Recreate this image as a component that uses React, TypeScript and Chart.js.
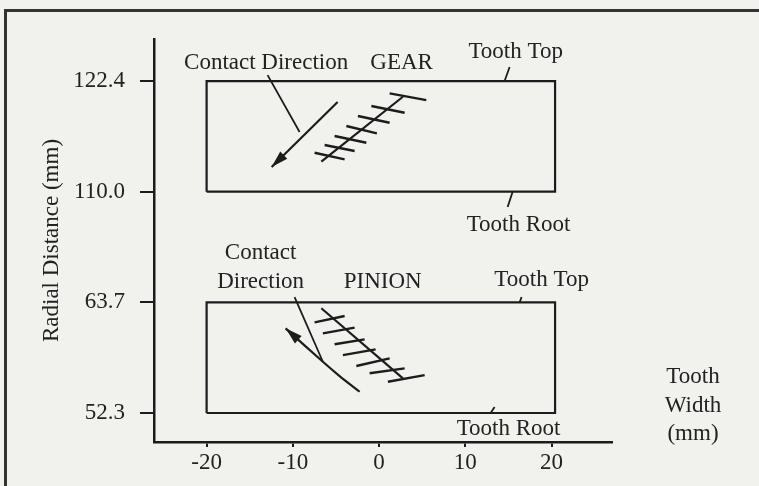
import React, { useEffect, useRef } from 'react';
import { Chart, registerables } from 'chart.js';
Chart.register(...registerables);

// ---- data ----
const xTickValues = [-20, -10, 0, 10, 20];
const yTickValuesMm = [52.3, 63.7, 110.0, 122.4];
const yTickLabels = ['52.3', '63.7', '110.0', '122.4'];
const pinionBand = [52.3, 63.7];
const gearBand = [110.0, 122.4];

// tooth outlines [x (mm), radial (mm)]
const gearTooth = [[-20, 110.0], [20.4, 110.0], [20.4, 122.4], [-20, 122.4], [-20, 110.0]];
const pinionTooth = [[-20, 52.3], [20.4, 52.3], [20.4, 63.7], [-20, 63.7], [-20, 52.3]];

// contact pattern spines
const gearSpine = [[-6.7, 113.36], [2.76, 120.64]];
const pinionSpine = [[-6.7, 63.09], [2.76, 55.87]];

// contact pattern cross marks
const gearHatches = [
  [[1.22, 121.02], [5.47, 120.27]],
  [[-0.9, 119.6], [2.96, 118.85]],
  [[-2.46, 118.48], [1.22, 117.73]],
  [[-3.8, 117.36], [-0.26, 116.54]],
  [[-5.16, 116.24], [-1.48, 115.49]],
  [[-6.32, 115.23], [-2.84, 114.56]],
  [[-7.48, 114.37], [-4.0, 113.63]],
];
const pinionHatches = [
  [[-7.48, 61.64], [-4.0, 62.29]],
  [[-6.52, 60.51], [-2.84, 61.09]],
  [[-5.16, 59.38], [-1.68, 59.89]],
  [[-4.2, 58.27], [-0.41, 58.86]],
  [[-2.64, 57.14], [1.22, 57.93]],
  [[-1.1, 56.39], [2.96, 56.9]],
  [[1.02, 55.52], [5.28, 56.21]],
];

// contact direction arrows (last point = arrow tip)
const gearArrow = [[-4.81, 120.05], [-12.46, 112.76]];
const pinionArrow = [[-2.26, 54.49], [-4.58, 56.11], [-6.52, 57.58], [-10.84, 61.02]];

// leader lines for labels
const leaders = [
  [[-12.93, 123.07], [-9.22, 116.69]],
  [[15.13, 123.97], [14.55, 122.4]],
  [[15.48, 110.0], [14.9, 108.28]],
  [[-9.8, 64.25], [-6.52, 57.58]],
  [[16.52, 64.25], [16.29, 63.7]],
  [[13.39, 52.92], [12.93, 52.3]],
];

const annotations = [
  { text: 'Contact Direction', x: -13.1, mm: 124.42 },
  { text: 'GEAR', x: 2.61, mm: 124.42 },
  { text: 'Tooth Top', x: 15.83, mm: 125.65 },
  { text: 'Tooth Root', x: 16.17, mm: 106.26 },
  { text: 'Contact', x: -13.74, mm: 68.78 },
  { text: 'Direction', x: -13.74, mm: 65.79 },
  { text: 'PINION', x: 0.41, mm: 65.79 },
  { text: 'Tooth Top', x: 18.84, mm: 66.0 },
  { text: 'Tooth Root', x: 15.01, mm: 50.65 },
];
const xTitleLines = ['Tooth', 'Width', '(mm)'];
const yTitle = 'Radial Distance (mm)';

// ---- broken radial axis: each band gets one unit ----
const toAxis = (mm: number) =>
  mm > (pinionBand[1] + gearBand[0]) / 2
    ? 2 + (mm - gearBand[0]) / (gearBand[1] - gearBand[0])
    : (mm - pinionBand[0]) / (pinionBand[1] - pinionBand[0]);
const yTickPositions = yTickValuesMm.map(toAxis);

const pt = (p: number[]) => ({ x: p[0], y: toAxis(p[1]) });
const segs = (list: number[][][]) =>
  list.flatMap((s) => [...s.map(pt), { x: null as any, y: null as any }]);

const INK = '#1c1c1c';
const TEXT = '#222222';
const FONT = '"Liberation Serif", "Times New Roman", serif';
const FS = 23;

const lineDs = (data: any[], extra: any = {}) => ({
  data,
  showLine: true,
  borderColor: INK,
  backgroundColor: INK,
  borderWidth: 2.2,
  pointRadius: 0,
  fill: false,
  tension: 0,
  spanGaps: false,
  ...extra,
});

const overlayPlugin = {
  id: 'overlay',
  afterDatasetsDraw(chart: any) {
    const ctx = chart.ctx;
    const xs = chart.scales.x;
    const ys = chart.scales.y;
    ctx.save();
    // arrowheads
    chart.data.datasets.forEach((ds: any, i: number) => {
      if (!ds.arrowEnd) return;
      const pts = chart.getDatasetMeta(i).data;
      const a = pts[pts.length - 2];
      const b = pts[pts.length - 1];
      const ang = Math.atan2(b.y - a.y, b.x - a.x);
      const len = 17;
      const hw = 5;
      ctx.fillStyle = INK;
      ctx.beginPath();
      ctx.moveTo(b.x, b.y);
      ctx.lineTo(
        b.x - len * Math.cos(ang) + hw * Math.sin(ang),
        b.y - len * Math.sin(ang) - hw * Math.cos(ang)
      );
      ctx.lineTo(
        b.x - len * Math.cos(ang) - hw * Math.sin(ang),
        b.y - len * Math.sin(ang) + hw * Math.cos(ang)
      );
      ctx.closePath();
      ctx.fill();
    });
    // labels
    ctx.fillStyle = TEXT;
    ctx.font = `${FS}px ${FONT}`;
    ctx.textAlign = 'center';
    ctx.textBaseline = 'middle';
    annotations.forEach((a) => {
      ctx.fillText(a.text, xs.getPixelForValue(a.x), ys.getPixelForValue(toAxis(a.mm)));
    });
    // x axis title at right side
    const ca = chart.chartArea;
    const cx = ca.right + 81;
    xTitleLines.forEach((t, i) => {
      ctx.fillText(t, cx, ca.bottom - 65 + i * 28.5);
    });
    ctx.restore();
  },
};

export default function App() {
  const ref = useRef<HTMLCanvasElement>(null);
  useEffect(() => {
    Chart.defaults.font.family = FONT;
    const chart = new Chart(ref.current as HTMLCanvasElement, {
      type: 'scatter',
      data: {
        datasets: [
          lineDs(gearTooth.map(pt)),
          lineDs(pinionTooth.map(pt)),
          lineDs(gearSpine.map(pt)),
          lineDs(pinionSpine.map(pt)),
          lineDs(segs(gearHatches), { borderWidth: 2.4 }),
          lineDs(segs(pinionHatches), { borderWidth: 2.4 }),
          lineDs(segs(leaders), { borderWidth: 1.8 }),
          lineDs(gearArrow.map(pt), { arrowEnd: true }),
          lineDs(pinionArrow.map(pt), { arrowEnd: true, tension: 0.3 }),
        ] as any,
      },
      options: {
        responsive: false,
        animation: false,
        devicePixelRatio: 1,
        layout: { padding: { left: 0, top: 39, right: 147, bottom: 0 } },
        plugins: { legend: { display: false }, tooltip: { enabled: false } },
        scales: {
          x: {
            type: 'linear',
            position: 'bottom',
            min: -26.1,
            max: 27,
            afterBuildTicks: (a: any) => {
              a.ticks = xTickValues.map((v) => ({ value: v }));
            },
            afterFit: (s: any) => {
              s.height = 44;
            },
            ticks: {
              color: TEXT,
              font: { size: FS, family: FONT },
              padding: 2,
              maxRotation: 0,
              autoSkip: false,
            },
            grid: { drawOnChartArea: false, drawTicks: true, tickLength: 5, color: INK, lineWidth: 2 },
            border: { display: true, color: INK, width: 2.5 },
          },
          y: {
            type: 'linear',
            position: 'left',
            min: -0.262,
            max: 3.38,
            afterBuildTicks: (a: any) => {
              a.ticks = yTickPositions.map((v) => ({ value: v }));
            },
            afterFit: (s: any) => {
              s.width = 154;
            },
            ticks: {
              color: TEXT,
              font: { size: FS, family: FONT },
              padding: 15,
              autoSkip: false,
              callback: (_v: any, i: number) => yTickLabels[i],
            },
            grid: { drawOnChartArea: false, drawTicks: true, tickLength: 14, color: INK, lineWidth: 2 },
            border: { display: true, color: INK, width: 2.5 },
            title: {
              display: true,
              text: yTitle,
              color: TEXT,
              font: { size: FS, family: FONT },
              padding: { top: 38, bottom: 0 },
            },
          },
        },
      } as any,
      plugins: [overlayPlugin],
    });
    return () => chart.destroy();
  }, []);
  return (
    <div
      style={{
        position: 'fixed',
        left: 0,
        top: 0,
        width: 759,
        height: 486,
        overflow: 'hidden',
        background: '#f1f1ee',
      }}
    >
      <div
        style={{
          position: 'absolute',
          left: 4,
          top: 9,
          width: 900,
          height: 700,
          borderLeft: '3px solid #333',
          borderTop: '3px solid #333',
        }}
      />
      <canvas
        ref={ref}
        width={759}
        height={486}
        style={{ position: 'absolute', left: 0, top: 0, width: 759, height: 486 }}
      />
    </div>
  );
}
